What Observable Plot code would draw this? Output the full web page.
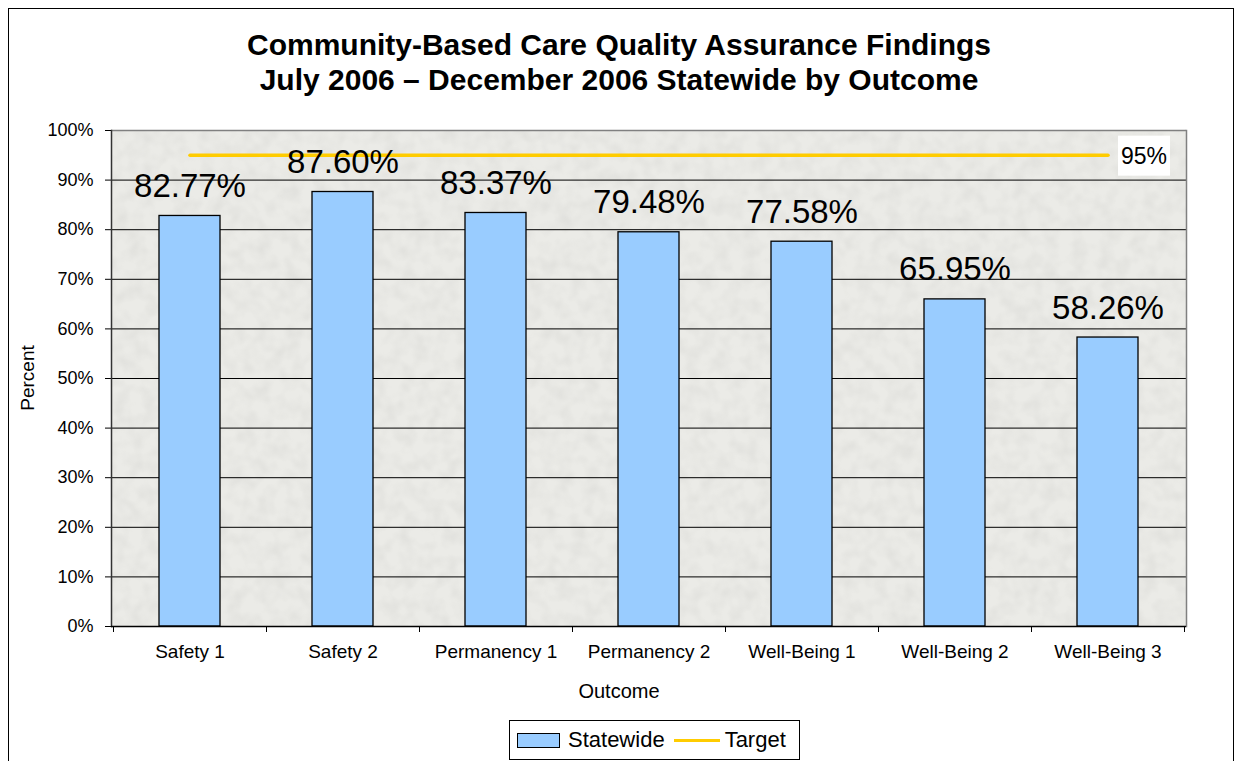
<!DOCTYPE html>
<html><head><meta charset="utf-8">
<script src="https://cdn.jsdelivr.net/npm/d3@7"></script>
<script src="https://cdn.jsdelivr.net/npm/@observablehq/plot@0.6"></script>
<style>
body{margin:0;background:#fff;font-family:"Liberation Sans",Arial,sans-serif;}
#wrap{position:relative;width:1238px;height:761px;overflow:hidden;background:#fff;}
#wrap svg{position:absolute;left:0;top:0;}
#border{position:absolute;left:8px;top:8px;width:1226px;height:790px;border:1.5px solid #000;box-sizing:border-box;pointer-events:none;z-index:5;}
#title{position:absolute;left:0;width:1238px;top:27px;text-align:center;font-weight:bold;font-size:30px;line-height:35px;color:#000;z-index:3;}
#ylab{position:absolute;left:28px;top:378px;transform:translate(-50%,-50%) rotate(-90deg);font-size:19px;white-space:nowrap;z-index:3;}
#xlab{position:absolute;left:0;width:1238px;top:680px;text-align:center;font-size:20px;z-index:3;}
#legend{position:absolute;left:509px;top:720px;width:291px;height:40px;border:1px solid #000;box-sizing:border-box;display:flex;align-items:center;font-size:22px;background:#fff;z-index:3;}
#legend .sw{display:inline-block;width:41px;height:13px;background:#99CCFF;border:1px solid #000;margin-left:7px;margin-right:8px;}
#legend .ln{display:inline-block;width:46px;height:3px;background:#FFCC00;margin-left:9px;margin-right:5px;}
</style></head>
<body>
<div id="wrap">
  <div id="title">Community-Based Care Quality Assurance Findings<br>July 2006 – December 2006 Statewide by Outcome</div>
  <div id="ylab">Percent</div>
  <div id="xlab">Outcome</div>
  <div id="legend"><span class="sw"></span><span>Statewide</span><span class="ln"></span><span>Target</span></div>
</div>
<script>
const outcomes = ["Safety 1","Safety 2","Permanency 1","Permanency 2","Well-Being 1","Well-Being 2","Well-Being 3"];
const statewide = [82.77, 87.60, 83.37, 79.48, 77.58, 65.95, 58.26];
const targetValue = 95;
const yTicks = [0,10,20,30,40,50,60,70,80,90,100];

const rows = outcomes.map((o,i)=>({outcome:o, value:statewide[i]}));
const targetRows = outcomes.map(o=>({outcome:o, target:targetValue}));

const W = 1238, H = 761, mL = 111, mR = 52, mT = 130, mB = 135;
const step = (W - mL - mR) / outcomes.length;
const edges = outcomes.map(o=>({outcome:o, dx:-step/2})).concat([{outcome:outcomes[outcomes.length-1], dx:step/2}]);

const chart = Plot.plot({
  width: W, height: H,
  marginLeft: mL, marginRight: mR, marginTop: mT, marginBottom: mB,
  style: {fontFamily: '"Liberation Sans", Arial, sans-serif', background: "transparent", overflow: "visible"},
  x: {domain: outcomes, paddingInner: 0.6, paddingOuter: 0.3, axis: null, label: null},
  y: {domain: [0,100], axis: null, label: null},
  marks: [
    Plot.frame({fill: "#ebebe7", stroke: "none"}),
    Plot.ruleY(yTicks.filter(t=>t>0 && t<100), {stroke: "#000", strokeWidth: 1}),
    Plot.ruleY([100], {stroke: "#808080", strokeWidth: 1.5}),
    Plot.frame({anchor: "right", stroke: "#808080", strokeWidth: 1.5}),
    Plot.barY(rows, {x: "outcome", y: "value", fill: "#99CCFF", stroke: "#000", strokeWidth: 1.3}),
    Plot.lineY(targetRows, {x: "outcome", y: "target", stroke: "#FFCC00", strokeWidth: 3.5}),
    Plot.text(rows, {x: "outcome", y: "value", text: d => d.value.toFixed(2) + "%", lineAnchor: "bottom", dy: -19, fontSize: 33, fill: "#000"}),
    Plot.text([{outcome: outcomes[outcomes.length-1], target: targetValue}], {x: "outcome", y: "target", text: d => d.target + "%", dx: 36, dy: 1, fontSize: 23, fill: "#000"}),
    Plot.axisY({ticks: yTicks, tickFormat: d => d + "%", tickSize: 6, tickPadding: 12, fontSize: 18, stroke: "#000", strokeOpacity: 1, label: null}),
    Plot.frame({anchor: "left", stroke: "#333", strokeWidth: 1.5}),
    Plot.ruleY([0], {stroke: "#000", strokeWidth: 1.5}),
    Plot.axisX({tickSize: 0, tickPadding: 18, fontSize: 19, label: null}),
    Plot.ruleX(edges, {x: "outcome", y1: d => 0, y2: d => 0, insetBottom: -6, stroke: "#000"})
  ]
});
const wrap = document.getElementById("wrap");
wrap.insertBefore(chart, wrap.firstChild);
const border = document.createElement("div");
border.id = "border";
wrap.appendChild(border);

// boundary ticks at band edges
(function(){
  const x = chart.scale("x");
  const groups = chart.querySelectorAll("g[aria-label='rule']");
  const last = groups[groups.length-1];
  last.removeAttribute("transform");
  const lines = last.querySelectorAll("line");
  lines.forEach((ln,i)=>{
    const e = edges[i];
    const px = Math.round(x.apply(e.outcome) + x.bandwidth/2 + e.dx) + 0.5;
    ln.setAttribute("x1", px); ln.setAttribute("x2", px);
    ln.removeAttribute("transform");
  });
})();

// texture + white box behind target label
(function(){
  const ns = "http://www.w3.org/2000/svg";
  const defs = document.createElementNS(ns, "defs");
  defs.innerHTML = `<filter id="tex" x="0" y="0" width="1" height="1">
    <feTurbulence type="fractalNoise" baseFrequency="0.07" numOctaves="2" seed="3" result="n"/>
    <feColorMatrix type="matrix" values="0 0 0 0 0.5  0 0 0 0 0.5  0 0 0 0 0.48  0 0 0 1.1 -0.4" />
  </filter>`;
  chart.insertBefore(defs, chart.firstChild);
  const bg = chart.querySelector("g[aria-label='frame'] rect") || chart.querySelector("rect[aria-label='frame']");
  if (bg) {
    const t = bg.cloneNode(false);
    t.setAttribute("fill", "#000");
    t.setAttribute("stroke", "none");
    t.setAttribute("filter", "url(#tex)");
    t.setAttribute("opacity", "0.35");
    bg.parentNode.insertBefore(t, bg.nextSibling);
  }
  const tl = Array.from(chart.querySelectorAll("text")).find(t => t.textContent === targetValue + "%");
  if (tl) {
    const b = tl.getBBox();
    const cx = b.x + b.width/2, cy = b.y + b.height/2;
    const r = document.createElementNS(ns, "rect");
    r.setAttribute("x", cx - 26); r.setAttribute("y", cy - 20);
    r.setAttribute("width", 52); r.setAttribute("height", 40);
    r.setAttribute("fill", "#fff");
    if (tl.getAttribute("transform")) r.setAttribute("transform", tl.getAttribute("transform"));
    tl.parentNode.insertBefore(r, tl);
  }
})();
</script>
</body></html>
